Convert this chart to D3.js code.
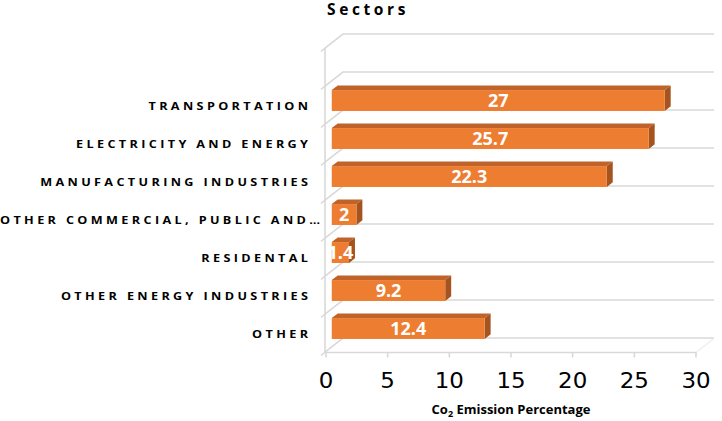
<!DOCTYPE html>
<html><head><meta charset="utf-8">
<script src="https://cdn.jsdelivr.net/npm/d3@7"></script>
<style>html,body{margin:0;padding:0;background:#fff;}svg{display:block;}</style>
</head><body>
<svg id="c" width="722" height="421"></svg>
<script>
const categories = ["", "TRANSPORTATION", "ELECTRICITY AND ENERGY", "MANUFACTURING INDUSTRIES",
  "OTHER COMMERCIAL, PUBLIC AND…", "RESIDENTAL", "OTHER ENERGY INDUSTRIES", "OTHER"];
const values = [null, 27, 25.7, 22.3, 2, 1.4, 9.2, 12.4];
const xTicks = [0, 5, 10, 15, 20, 25, 30];
const titleText = "Sectors";
const axisTitle = "Emission Percentage";

const svg = d3.select("#c");
const x = d3.scaleLinear().domain([0, 30]).range([326, 696]);
const y = d3.scaleBand().domain(categories).range([48, 352]).padding(0);
const DX = 18, DY = -14;           // wall depth
const bz0 = 0.32, bz1 = 0.65;       // bar depth position (fractions)
const barFrac = 0.55;
const grid = "#d9d9d9";
const g = svg.append("g");

const bounds = categories.map(c => y(c)).concat([y.range()[1]]);
bounds.forEach(b => {
  g.append("path").attr("d", `M${x(0)-5},${b+3.5}L${x(0)-1},${b}L${x(0)-1+DX},${b+DY}L${x(30)+DX},${b+DY}`)
    .attr("fill", "none").attr("stroke", grid).attr("stroke-width", 1.6);
});
g.append("line").attr("x1", x(0)-1).attr("x2", x(0)-1).attr("y1", y.range()[0]).attr("y2", y.range()[1])
  .attr("stroke", grid).attr("stroke-width", 1.6);
g.append("line").attr("x1", x(0)-1).attr("x2", x(30)).attr("y1", 352.5).attr("y2", 352.5)
  .attr("stroke", grid).attr("stroke-width", 1.6);
g.append("line").attr("x1", x(30)).attr("x2", x(30)+DX).attr("y1", 352.5).attr("y2", 352.5+DY)
  .attr("stroke", "#eeeeee").attr("stroke-width", 1.2);
xTicks.forEach(t => {
  g.append("line").attr("x1", x(t)).attr("x2", x(t)).attr("y1", 352).attr("y2", 357.5)
    .attr("stroke", grid).attr("stroke-width", 1.6);
  g.append("text").attr("transform", `translate(${x(t)},388) scale(1.12,1)`)
    .attr("text-anchor", "middle").attr("font-family", "DejaVu Sans").attr("font-size", 20.5)
    .attr("fill", "#000").text(t);
});

const bars = categories.map((c, i) => ({c, v: values[i]})).filter(d => d.v != null);
bars.forEach(d => {
  const bw = y.bandwidth() * barFrac;
  const cy = y(d.c) + y.bandwidth() / 2;
  const ox = bz0 * DX, oy = bz0 * DY;
  const ddx = (bz1 - bz0) * DX, ddy = (bz1 - bz0) * DY;
  const x0 = x(0) + ox, x1 = x(d.v) + ox;
  const y0 = cy - bw / 2 + oy, y1 = cy + bw / 2 + oy;
  g.append("path").attr("d", `M${x0},${y0}L${x0+ddx},${y0+ddy}L${x1+ddx},${y0+ddy}L${x1},${y0}Z`)
    .attr("fill", "#c0632b");
  g.append("path").attr("d", `M${x1},${y0}L${x1+ddx},${y0+ddy}L${x1+ddx},${y1+ddy}L${x1},${y1}Z`)
    .attr("fill", "#a5531f");
  g.append("rect").attr("x", x0).attr("y", y0).attr("width", x1 - x0).attr("height", y1 - y0)
    .attr("fill", "#ed7d31");
  g.append("text").attr("x", (x0 + x1) / 2).attr("y", (y0 + y1) / 2 + 6.5)
    .attr("text-anchor", "middle").attr("font-family", "Open Sans").attr("font-weight", 700)
    .attr("font-size", 18).attr("fill", "#fff").text(d.v);
});

// category labels (horizontally widened glyphs)
const LS = 3.0, SX = 1.12, RIGHT = 308;
categories.forEach(c => {
  if (!c) return;
  const cy = y(c) + y.bandwidth() / 2 + 5;
  const t = g.append("text").attr("x", LS).attr("y", 0)
    .attr("transform", `translate(${RIGHT},${cy}) scale(${SX},1)`)
    .attr("text-anchor", "end").attr("font-family", "Open Sans").attr("font-weight", 700)
    .attr("font-size", 11.3).attr("letter-spacing", LS).attr("fill", "#000").text(c);
  const w = t.node().getComputedTextLength() * SX;
  if (w > RIGHT) t.attr("text-anchor", "start").attr("x", 0).attr("transform", `translate(0,${cy}) scale(${SX},1)`);
});

svg.append("text").attr("x", 327).attr("y", 14.5).attr("font-family", "Open Sans").attr("font-weight", 700)
  .attr("font-size", 15.5).attr("letter-spacing", 3.6).attr("fill", "#000").text(titleText);

const at = svg.append("text").attr("x", (x(0) + x(30)) / 2).attr("y", 414).attr("text-anchor", "middle")
  .attr("font-family", "Open Sans").attr("font-weight", 700).attr("font-size", 13).attr("fill", "#000");
at.append("tspan").text("Co");
at.append("tspan").attr("font-size", 9).attr("dy", 3).text("2");
at.append("tspan").attr("dy", -3).text(" " + axisTitle);
</script>
</body></html>
